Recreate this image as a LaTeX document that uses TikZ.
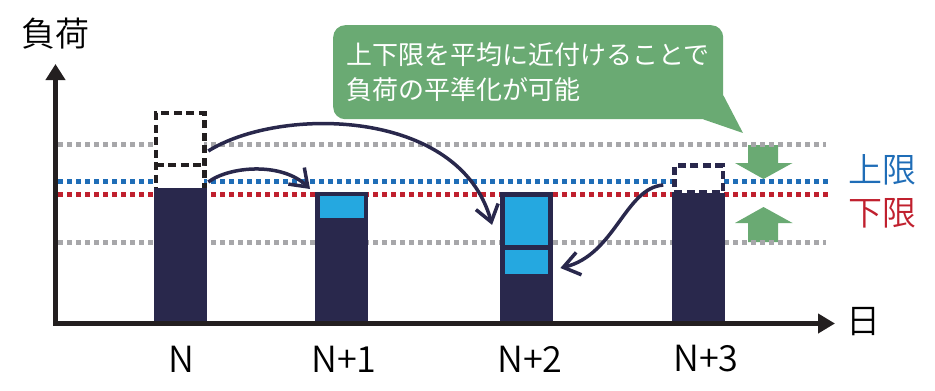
\documentclass[tikz,border=0pt]{standalone}
\usepackage{fontspec}
\newfontfamily\jp{Noto Sans CJK JP DemiLight}
\newfontfamily\jpnote{Noto Sans CJK JP}
\usetikzlibrary{arrows.meta, calc}
\definecolor{barnavy}{RGB}{41,40,76}
\definecolor{movedblue}{RGB}{37,168,224}
\definecolor{notegreen}{RGB}{106,170,115}
\definecolor{upperblue}{RGB}{31,109,183}
\definecolor{lowerred}{RGB}{192,32,46}
\definecolor{guidegray}{RGB}{167,167,170}
\definecolor{inkblack}{RGB}{35,31,32}
\tikzstyle{axis}     = [line width=5pt, draw=inkblack, {Triangle[length=16pt,width=19pt]}-{Triangle[length=17pt,width=19pt]}]
\tikzstyle{bar}      = [fill=barnavy, inner sep=0pt, outer sep=0pt, minimum width=53pt, anchor=south]
\tikzstyle{moved}    = [fill=movedblue, inner sep=0pt, outer sep=0pt, minimum width=44pt]
\tikzstyle{ghost}    = [fill=white, line width=4.5pt, dash pattern=on 8pt off 4.5pt, inner sep=0pt, outer sep=0pt, minimum width=48.5pt]
\tikzstyle{guide}    = [line width=4.8pt, dash pattern=on 4.8pt off 4.2pt]
\tikzstyle{shiftarrow} = [line width=3.5pt, draw=barnavy, -{Straight Barb[length=16pt,width=23pt]}]
\tikzstyle{lbl}      = [inner sep=0pt, font={\jp\fontsize{34pt}{40pt}\selectfont}]
\tikzstyle{daylbl}   = [inner sep=0pt, font={\jp\fontsize{36pt}{40pt}\selectfont}]
\tikzstyle{note}     = [fill=notegreen, text=white, rounded corners=12pt, inner sep=0pt, align=left, minimum width=390pt, minimum height=94pt, anchor=north west, font={\jpnote\fontsize{26pt}{35pt}\selectfont}]
\tikzstyle{pointer}  = [fill=notegreen]
\begin{document}
\begin{tikzpicture}[x=1pt, y=-1pt]
    \useasboundingbox (0,0) rectangle (935,391);

    % Green arrows (limits move toward average)
    \fill[pointer] (748,145) -- (778,145) -- (778,163) -- (792.5,163) -- (763.5,179)
        -- (735,163) -- (748,163) -- cycle;
    \fill[pointer] (748,242) -- (778,242) -- (778,223) -- (792.5,223) -- (763.5,207)
        -- (735,223) -- (748,223) -- cycle;

    % Guide lines
    \draw[guide, guidegray] (58,144.3) -- (826,144.3);
    \draw[guide, upperblue] (58,181.8) -- (828,181.8);
    \draw[guide, lowerred] (58,194.3) -- (828,194.3);
    \draw[guide, guidegray] (58,242.3) -- (826,242.3);

    % Load removed from peaks
    \node[ghost, draw=inkblack, minimum height=78.8pt] (ghostA) at (180,152.6) {};
    \draw[ghost, draw=inkblack] (ghostA.west |- 0,165) -- (ghostA.east |- 0,165);
    \node[ghost, draw=barnavy, minimum height=27pt] (ghostD) at (698.5,179) {};

    % Bars
    \node[bar, minimum height=135pt] (barA) at (180.5,323) {};
    \node[bar, minimum height=131pt] (barB) at (341.5,323) {};
    \node[bar, minimum height=131pt] (barC) at (526.7,323) {};
    \node[bar, minimum height=130.5pt] (barD) at (698.7,323) {};

    % Moved load
    \node[moved, minimum height=22pt] (movedB) at (342,206.7) {};
    \node[moved, minimum width=43.3pt, minimum height=48.3pt] (movedC1) at (526.7,220.9) {};
    \node[moved, minimum width=43.3pt, minimum height=24pt] (movedC2) at (526.7,262) {};

    % Shifting arrows
    \draw[shiftarrow] ([xshift=4pt,yshift=10pt]ghostA.south east)
        .. controls (230,166) and (282,162) .. ([xshift=-5pt,yshift=3pt]barB.north west);
    \draw[shiftarrow] ([xshift=4pt,yshift=1.6pt]ghostA.east)
        .. controls (280,106) and (460,108) .. ([xshift=-13pt,yshift=-4pt]movedC1.west);
    \draw[shiftarrow] ([xshift=-11pt,yshift=-6pt]ghostD.west)
        .. controls (625,188) and (615,255) .. ([xshift=12pt,yshift=-6pt]movedC2.east);

    % Axes
    \coordinate (ytip) at (55.5,64);
    \coordinate (xtip) at (835,323.5);
    \draw[axis] (ytip) |- (xtip);

    % Callout
    \node[note] (note) at (333,25)
        {上下限を平均に近付けることで\\負荷の平準化が可能};
    \fill[pointer] ([xshift=-20pt]note.south east) -- (743,133) -- ([yshift=24pt]note.south east) -- cycle;

    % Labels
    \node[lbl] (lblLoad) at (55,34) {負荷};
    \node[lbl] (lblDay) at (863,322) {日};
    \node[lbl, text=upperblue] (lblUpper) at (882,170) {上限};
    \node[lbl, text=lowerred] (lblLower) at (882,213) {下限};
    \node[daylbl] (lblA) at (181,359) {N};
    \node[daylbl] (lblB) at (344,359) {N+1};
    \node[daylbl] (lblC) at (530,359) {N+2};
    \node[daylbl] (lblD) at (706,359) {N+3};

\end{tikzpicture}
\end{document}
